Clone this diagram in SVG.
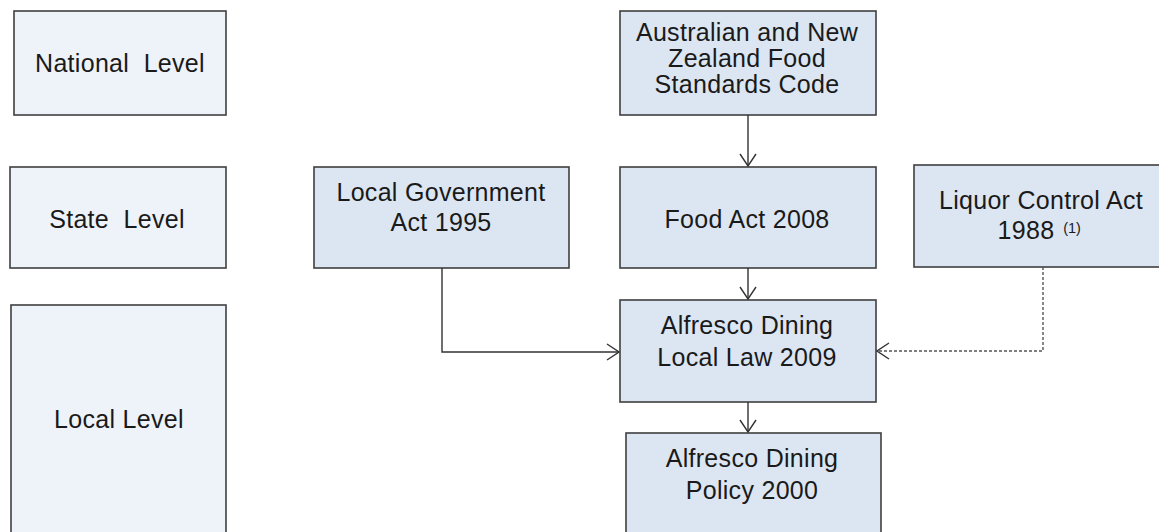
<svg xmlns="http://www.w3.org/2000/svg" width="1159" height="532" viewBox="0 0 1159 532">
<style>
.lvl{fill:#eef3f9;stroke:#3f3f3f;stroke-width:1.6}
.box{fill:#dce6f2;stroke:#3f3f3f;stroke-width:1.6}
text{font-family:"Liberation Sans",Arial,sans-serif;font-size:25px;letter-spacing:0.3px;fill:#1a1a1a;text-anchor:middle;white-space:pre}
.sup{font-size:14.5px;letter-spacing:0}
.con{fill:none;stroke:#333;stroke-width:1.4}
.dash{fill:none;stroke:#555;stroke-width:1.4;stroke-dasharray:3 2}
</style>
<defs>
<marker id="arr" viewBox="0 0 14 18" refX="13" refY="9" markerWidth="14" markerHeight="18" markerUnits="userSpaceOnUse" orient="auto">
<path d="M1,1 L13,9 L1,17" fill="none" stroke="#333" stroke-width="1.4"/>
</marker>
</defs>
<g id="national-level"><rect class="lvl" x="14" y="11" width="212" height="104"/><text x="120" y="72">National  Level</text></g>
<g id="state-level"><rect class="lvl" x="10" y="167" width="216" height="101"/><text x="117" y="228">State  Level</text></g>
<g id="local-level"><rect class="lvl" x="11" y="305" width="215" height="240"/><text x="119" y="428">Local Level</text></g>
<g id="anz-code"><rect class="box" x="620" y="11" width="256" height="104"/><text x="747" y="41">Australian and New</text><text x="747" y="67">Zealand Food</text><text x="747" y="93">Standards Code</text></g>
<g id="local-gov-act"><rect class="box" x="314" y="167" width="255" height="101"/><text x="441" y="201">Local Government</text><text x="441" y="231">Act 1995</text></g>
<g id="food-act"><rect class="box" x="620" y="167" width="256" height="101"/><text x="747" y="228">Food Act 2008</text></g>
<g id="liquor-act"><rect class="box" x="914" y="165" width="256" height="102"/><text x="1041" y="209">Liquor Control Act</text><text x="1026" y="239">1988</text><text class="sup" x="1072" y="233">(1)</text></g>
<g id="local-law"><rect class="box" x="620" y="300" width="256" height="102"/><text x="747" y="334">Alfresco Dining</text><text x="747" y="366">Local Law 2009</text></g>
<g id="policy"><rect class="box" x="626" y="433" width="255" height="120"/><text x="752" y="467">Alfresco Dining</text><text x="752" y="499">Policy 2000</text></g>
<g id="connectors">
<path class="con" d="M748,115 V166" marker-end="url(#arr)"/>
<path class="con" d="M748,268 V299" marker-end="url(#arr)"/>
<path class="con" d="M748,402 V432" marker-end="url(#arr)"/>
<path class="con" d="M442,268 V352 H619" marker-end="url(#arr)"/>
<path class="dash" d="M1043,267 V351 H877" marker-end="url(#arr)"/>
</g>
</svg>
